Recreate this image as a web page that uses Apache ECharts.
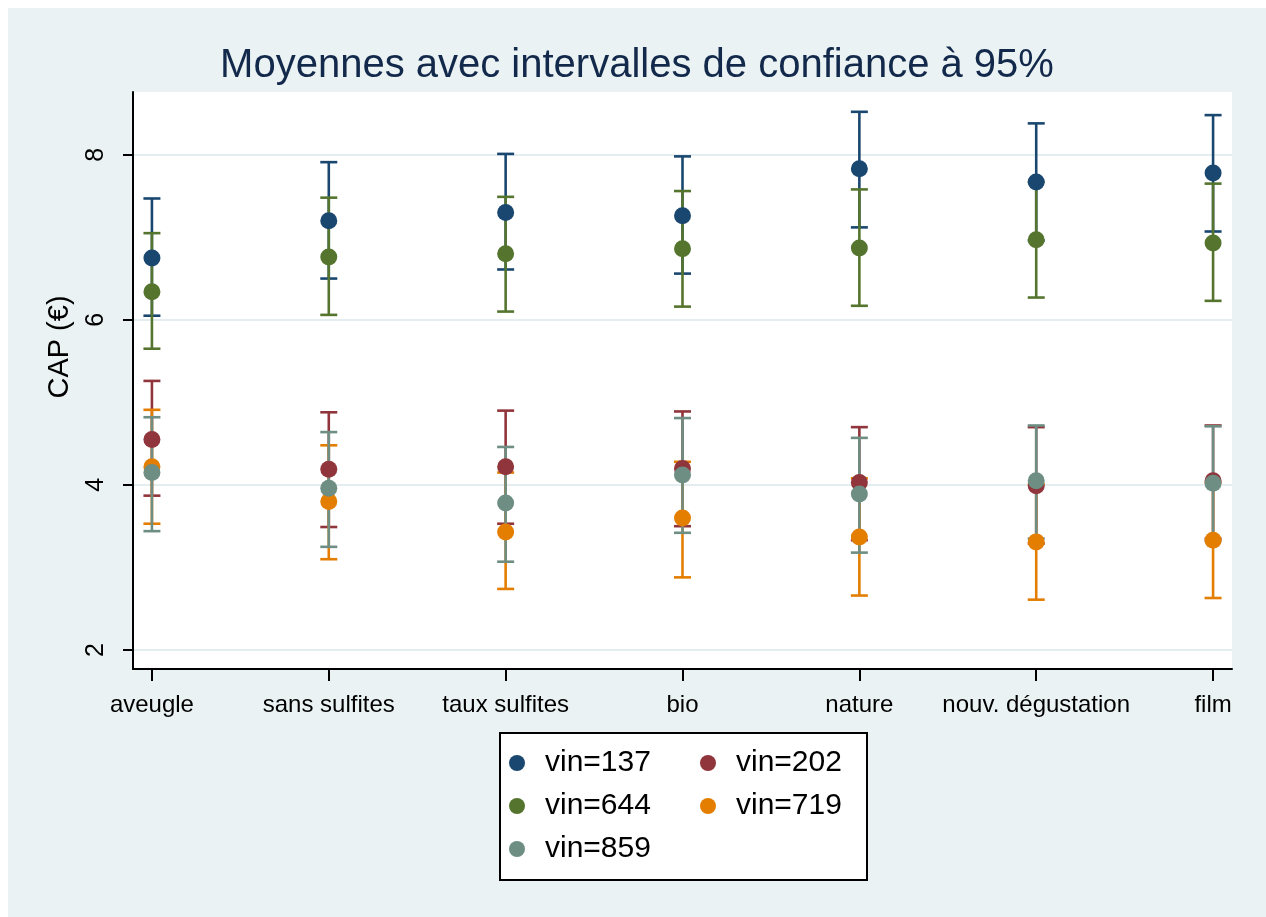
<!DOCTYPE html>
<html>
<head>
<meta charset="utf-8">
<script src="https://cdn.jsdelivr.net/npm/echarts@6/dist/echarts.min.js"></script>
<style>
  html, body { margin: 0; padding: 0; background: #ffffff; }
  #chart { position: absolute; left: 8px; top: 8px; width: 1258px; height: 909px; }
</style>
</head>
<body>
<div id="chart"></div>
<script>
// Categories on the x axis
const categories = ['aveugle', 'sans sulfites', 'taux sulfites', 'bio', 'nature', 'nouv. dégustation', 'film'];
const yTicks = [2, 4, 6, 8];

// Means and 95% confidence bounds per wine
const mean137 = [6.75, 7.20, 7.30, 7.26, 7.83, 7.67, 7.78];
const lo137   = [6.05, 6.50, 6.61, 6.56, 7.12, 6.96, 7.07];
const hi137   = [7.47, 7.91, 8.01, 7.98, 8.52, 8.38, 8.48];

const mean202 = [4.55, 4.19, 4.22, 4.20, 4.03, 3.99, 4.05];
const lo202   = [3.87, 3.49, 3.53, 3.50, 3.33, 3.29, 3.35];
const hi202   = [5.26, 4.88, 4.90, 4.89, 4.70, 4.70, 4.72];

const mean644 = [6.34, 6.76, 6.80, 6.86, 6.87, 6.97, 6.93];
const lo644   = [5.65, 6.06, 6.10, 6.16, 6.17, 6.27, 6.23];
const hi644   = [7.05, 7.48, 7.49, 7.56, 7.58, 7.67, 7.65];

const mean719 = [4.22, 3.80, 3.43, 3.60, 3.37, 3.31, 3.33];
const lo719   = [3.53, 3.10, 2.74, 2.88, 2.66, 2.61, 2.63];
const hi719   = [4.91, 4.48, 4.15, 4.28, 4.08, 4.01, 4.03];

const mean859 = [4.15, 3.96, 3.78, 4.12, 3.89, 4.05, 4.02];
const lo859   = [3.44, 3.25, 3.07, 3.42, 3.18, 3.35, 3.32];
const hi859   = [4.82, 4.64, 4.46, 4.81, 4.57, 4.72, 4.71];

const wines = [
  { name: 'vin=137', color: '#1a476f', mean: mean137, lo: lo137, hi: hi137 },
  { name: 'vin=202', color: '#90353b', mean: mean202, lo: lo202, hi: hi202 },
  { name: 'vin=644', color: '#55752f', mean: mean644, lo: lo644, hi: hi644 },
  { name: 'vin=719', color: '#e37e00', mean: mean719, lo: lo719, hi: hi719 },
  { name: 'vin=859', color: '#6e8e84', mean: mean859, lo: lo859, hi: hi859 }
];

// legend laid out in two columns
const legendCol1 = ['vin=137', 'vin=644', 'vin=859'];
const legendCol2 = ['vin=202', 'vin=719'];

const FONT = '"Liberation Sans", Arial, Helvetica, sans-serif';
const catIndex = categories.map(function (c, k) { return k; });

function capRenderer(color) {
  return function (params, api) {
    const x = api.value(0);
    const pLo = api.coord([x, api.value(1)]);
    const pHi = api.coord([x, api.value(2)]);
    const hw = 8.5;
    const style = { stroke: color, lineWidth: 2.6 };
    return {
      type: 'group',
      children: [
        { type: 'line', shape: { x1: pLo[0], y1: pLo[1], x2: pHi[0], y2: pHi[1] }, style: style },
        { type: 'line', shape: { x1: pLo[0] - hw, y1: pLo[1], x2: pLo[0] + hw, y2: pLo[1] }, style: style },
        { type: 'line', shape: { x1: pHi[0] - hw, y1: pHi[1], x2: pHi[0] + hw, y2: pHi[1] }, style: style }
      ]
    };
  };
}

const series = [];
// confidence interval caps first, then the mean markers on top
wines.forEach(function (w, i) {
  series.push({
    type: 'custom',
    name: w.name + ' IC',
    renderItem: capRenderer(w.color),
    data: catIndex.map(function (k) { return [k, w.lo[k], w.hi[k]]; }),
    z: 2 + i,
    silent: true
  });
});
wines.forEach(function (w, i) {
  series.push({
    type: 'scatter',
    name: w.name,
    symbol: 'circle',
    symbolSize: 17,
    itemStyle: { color: w.color, opacity: 1 },
    data: catIndex.map(function (k) { return [k, w.mean[k]]; }),
    z: 10 + i
  });
});

function legendColumn(names, left) {
  return {
    data: names,
    left: left,
    top: 740,
    orient: 'vertical',
    icon: 'circle',
    itemWidth: 16,
    itemHeight: 16,
    itemGap: 13,
    padding: 0,
    z: 20,
    textStyle: { fontFamily: FONT, fontSize: 30, color: '#000', padding: [0, 0, 0, 15] }
  };
}

const chart = echarts.init(document.getElementById('chart'), null, { renderer: 'canvas' });
chart.setOption({
  animation: false,
  backgroundColor: '#eaf2f3',
  title: {
    text: 'Moyennes avec intervalles de confiance à 95%',
    left: 'center',
    top: 33,
    textStyle: { fontFamily: FONT, fontSize: 40, fontWeight: 'normal', color: '#13294b' }
  },
  grid: {
    left: 125, right: 34, top: 84, bottom: 248,
    show: true, backgroundColor: '#ffffff', borderWidth: 0
  },
  xAxis: {
    type: 'value',
    min: -0.107,
    max: 6.107,
    axisLine: { show: true, onZero: false, lineStyle: { color: '#000', width: 2 } },
    axisTick: { show: true, length: 12, lineStyle: { color: '#000', width: 2 }, customValues: catIndex },
    axisLabel: {
      customValues: catIndex,
      formatter: function (v) { return categories[Math.round(v)]; },
      margin: 24,
      fontFamily: FONT, fontSize: 24, color: '#000'
    },
    splitLine: { show: false }
  },
  yAxis: {
    type: 'value',
    min: 1.77,
    max: 8.76,
    axisLine: { show: true, onZero: false, lineStyle: { color: '#000', width: 2 } },
    axisTick: { show: true, length: 10, lineStyle: { color: '#000', width: 2 }, customValues: yTicks },
    axisLabel: {
      customValues: yTicks,
      rotate: 90,
      margin: 24,
      fontFamily: FONT, fontSize: 25, color: '#000'
    },
    splitLine: { show: true, lineStyle: { color: '#e4eef0', width: 2 } }
  },
  legend: [legendColumn(legendCol1, 501), legendColumn(legendCol2, 692)],
  graphic: [
    {
      type: 'rect',
      z: 1,
      shape: { x: 492, y: 725, width: 367, height: 147 },
      style: { fill: '#ffffff', stroke: '#000', lineWidth: 2 }
    },
    {
      type: 'text',
      x: 52,
      y: 339,
      rotation: Math.PI / 2,
      style: {
        text: 'CAP (€)',
        fontFamily: FONT, fontSize: 29, fill: '#000',
        textAlign: 'center', textVerticalAlign: 'middle'
      }
    }
  ],
  series: series
});
</script>
</body>
</html>
